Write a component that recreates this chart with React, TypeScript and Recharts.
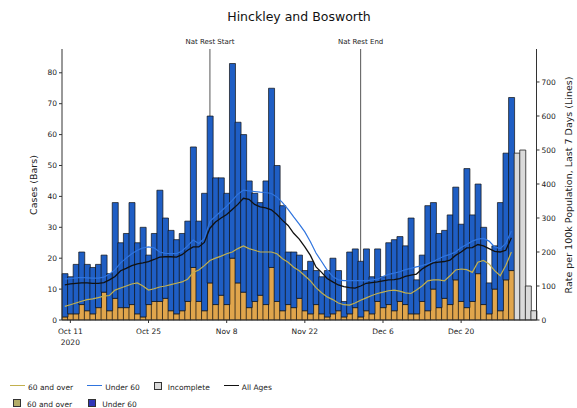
import React from "react";
import { ComposedChart, Bar, Line, XAxis, YAxis, ReferenceLine } from "recharts";

const MONTHS = ["Jan", "Feb", "Mar", "Apr", "May", "Jun", "Jul", "Aug", "Sep", "Oct", "Nov", "Dec"];

// one bar per day, Oct 10 2020 .. Jan 2 2021
const DATES = Array.from({ length: 85 }, (_, i) => {
  const d = new Date(2020, 9, 10 + i);
  return `${MONTHS[d.getMonth()]} ${d.getDate()}`;
});

const TICK_DATES = ["Oct 11", "Oct 25", "Nov 8", "Nov 22", "Dec 6", "Dec 20"];

// daily cases, all ages (complete days)
const TOTAL_CASES = [
  15, 14, 18, 22, 18, 17, 18, 21, 15, 38, 25, 28, 38, 25, 30, 21, 28, 42, 33, 29,
  26, 28, 32, 56, 32, 41, 66, 46, 46, 41, 83, 64, 60, 45, 41, 38, 45, 75, 50, 37,
  22, 22, 21, 16, 19, 16, 14, 16, 20, 16, 6, 22, 23, 19, 23, 14, 23, 14, 25, 26,
  27, 24, 33, 13, 21, 37, 38, 28, 29, 34, 43, 31, 49, 34, 44, 30, 12, 24, 38, 54,
  72,
];

// daily cases, 60 and over
const OVER_60_CASES = [
  1, 2, 2, 5, 3, 2, 4, 9, 3, 7, 4, 4, 5, 2, 1, 5, 6, 6, 7, 3,
  2, 3, 6, 17, 6, 3, 12, 5, 8, 5, 20, 12, 9, 4, 6, 8, 5, 17, 6, 3,
  5, 4, 7, 3, 2, 5, 2, 1, 2, 3, 1, 2, 4, 1, 3, 2, 6, 4, 5, 3,
  6, 5, 2, 2, 6, 3, 10, 4, 7, 5, 13, 6, 4, 6, 15, 5, 2, 10, 3, 13,
  16,
];

// last days, not yet complete
const INCOMPLETE_CASES = [54, 55, 11, 3];

// 7-day rate per 100k
const RATE_ALL_AGES = [
  103, 106, 108, 109, 109, 108, 108, 110, 118, 128, 145, 152, 160, 165, 168, 172, 178, 185, 186, 186,
  185, 192, 205, 215, 215, 228, 270, 288, 300, 310, 325, 340, 358, 355, 340, 333, 330, 324, 310, 293,
  278, 255, 238, 215, 190, 156, 140, 122, 112, 103, 98, 95, 94, 100, 108, 110, 112, 115, 118, 119,
  122, 128, 132, 135, 150, 160, 168, 170, 172, 176, 190, 200, 212, 213, 222, 218, 210, 202, 200, 205,
  242,
];

const RATE_UNDER_60 = [
  120, 122, 124, 125, 124, 123, 123, 126, 135, 148, 168, 182, 195, 205, 212, 215, 212, 200, 196, 195,
  195, 203, 218, 235, 225, 240, 290, 305, 320, 335, 352, 370, 382, 380, 378, 376, 375, 372, 362, 345,
  325, 303, 282, 259, 230, 197, 172, 147, 128, 118, 116, 116, 116, 116, 115, 118, 120, 128, 134, 138,
  142, 148, 152, 156, 160, 165, 172, 180, 188, 193, 200, 213, 222, 232, 238, 240, 232, 215, 210, 225,
  262,
];

const RATE_OVER_60 = [
  40, 45, 50, 55, 60, 62, 66, 70, 72, 88, 94, 100, 106, 109, 100, 88, 92, 97, 100, 104,
  108, 112, 120, 140, 147, 160, 175, 182, 188, 195, 200, 210, 218, 210, 205, 200, 200, 200, 195, 180,
  170, 155, 145, 130, 115, 95, 80, 68, 60, 50, 45, 44, 50, 58, 65, 72, 78, 82, 86, 88,
  85, 80, 78, 88, 100, 115, 118, 118, 115, 130, 147, 150, 148, 140, 170, 175, 165, 145, 130, 160,
  200,
];

const N_COMPLETE = TOTAL_CASES.length;

const data = DATES.map((date, i) => ({
  date,
  over60: i < N_COMPLETE ? OVER_60_CASES[i] : null,
  under60: i < N_COMPLETE ? TOTAL_CASES[i] - OVER_60_CASES[i] : null,
  incomplete: i >= N_COMPLETE ? INCOMPLETE_CASES[i - N_COMPLETE] : null,
  rateAll: i < N_COMPLETE ? RATE_ALL_AGES[i] : null,
  rateUnder60: i < N_COMPLETE ? RATE_UNDER_60[i] : null,
  rateOver60: i < N_COMPLETE ? RATE_OVER_60[i] : null,
}));

const BLUE = "#1f5ec4";
const ORANGE = "#e0a54c";
const OLIVE = "#c2b04e";
const LINE_BLUE = "#2f74de";
const FONT = "'DejaVu Sans', sans-serif";
const TXT = "#222";

function DateTick(props: any) {
  const { x, y, payload } = props;
  return (
    <text x={x} y={y + 9} textAnchor="middle" fontSize={7.5} fill={TXT} fontFamily={FONT}>
      <tspan x={x} dy={0}>{payload.value}</tspan>
      {payload.value === "Oct 11" && (
        <tspan x={x} dy={11}>2020</tspan>
      )}
    </text>
  );
}

function LegendLine({ color }: { color: string }) {
  return <span style={{ display: "inline-block", width: 15, height: 0, borderTop: `1.3px solid ${color}`, verticalAlign: "middle", marginRight: 3 }} />;
}

function LegendBox({ color }: { color: string }) {
  return <span style={{ display: "inline-block", width: 6, height: 6, background: color, border: "1px solid #333", verticalAlign: "middle", marginRight: 6 }} />;
}

export default function App() {
  const legendText: React.CSSProperties = { fontSize: 7.5, color: TXT, marginRight: 14 };
  return (
    <div style={{ position: "absolute", left: 0, top: 0, width: 577, height: 408, background: "#fff", fontFamily: FONT }}>
      <div style={{ position: "absolute", left: 0, width: 598, top: 9, textAlign: "center", fontSize: 12.5, color: "#111" }}>
        Hinckley and Bosworth
      </div>

      <div style={{ position: "absolute", left: 33, top: 185, transform: "translate(-50%, -50%) rotate(-90deg)", whiteSpace: "nowrap", fontSize: 9.5, color: TXT }}>
        Cases (Bars)
      </div>
      <div style={{ position: "absolute", left: 568, top: 185, transform: "translate(-50%, -50%) rotate(-90deg)", whiteSpace: "nowrap", fontSize: 9.5, color: TXT }}>
        Rate per 100k Population, Last 7 Days (Lines)
      </div>

      <div style={{ position: "absolute", left: 0, top: 0 }}>
        <ComposedChart width={577} height={350} data={data} margin={{ top: 49, right: 0, left: 0, bottom: 0 }} barCategoryGap={0}>
          <XAxis
            dataKey="date"
            ticks={TICK_DATES}
            interval={0}
            tick={<DateTick />}
            height={30}
            axisLine={{ stroke: "#333" }}
            tickLine={{ stroke: "#333" }}
            tickSize={3}
          />
          <XAxis xAxisId="top" orientation="top" dataKey="date" tick={false} tickLine={false} height={0} axisLine={{ stroke: "#555" }} />
          <YAxis
            yAxisId="left"
            domain={[0, 87.7]}
            ticks={[0, 10, 20, 30, 40, 50, 60, 70, 80]}
            width={62}
            tick={{ fontSize: 7.5, fill: TXT, fontFamily: FONT }}
            tickSize={3}
            axisLine={{ stroke: "#333" }}
            tickLine={{ stroke: "#333" }}
          />
          <YAxis
            yAxisId="right"
            orientation="right"
            domain={[0, 797]}
            ticks={[0, 100, 200, 300, 400, 500, 600, 700]}
            width={40.5}
            tick={{ fontSize: 7.5, fill: TXT, fontFamily: FONT }}
            tickSize={3}
            axisLine={{ stroke: "#333" }}
            tickLine={{ stroke: "#333" }}
          />
          <ReferenceLine
            yAxisId="left"
            x="Nov 5"
            stroke="#555"
            strokeWidth={1}
            zIndex={100}
            label={{ value: "Nat Rest Start", position: "top", fontSize: 7, fill: TXT, fontFamily: FONT }}
          />
          <ReferenceLine
            yAxisId="left"
            x="Dec 2"
            stroke="#555"
            strokeWidth={1}
            zIndex={100}
            label={{ value: "Nat Rest End", position: "top", fontSize: 7, fill: TXT, fontFamily: FONT }}
          />
          <Bar yAxisId="left" dataKey="over60" stackId="cases" fill={ORANGE} stroke="#111" strokeWidth={0.7} isAnimationActive={false} />
          <Bar yAxisId="left" dataKey="under60" stackId="cases" fill={BLUE} stroke="#111" strokeWidth={0.7} isAnimationActive={false} />
          <Bar yAxisId="left" dataKey="incomplete" stackId="cases" fill="#dadada" stroke="#222" strokeWidth={0.8} isAnimationActive={false} />
          <Line yAxisId="right" dataKey="rateOver60" stroke={OLIVE} strokeWidth={1.2} dot={false} isAnimationActive={false} />
          <Line yAxisId="right" dataKey="rateUnder60" stroke={LINE_BLUE} strokeWidth={1.2} dot={false} isAnimationActive={false} />
          <Line yAxisId="right" dataKey="rateAll" stroke="#111" strokeWidth={1.3} dot={false} isAnimationActive={false} />
        </ComposedChart>
      </div>

      <div style={{ position: "absolute", left: 10, top: 379, whiteSpace: "nowrap", lineHeight: "12px" }}>
        <div>
          <LegendLine color={OLIVE} />
          <span style={legendText}>60 and over</span>
          <LegendLine color={LINE_BLUE} />
          <span style={legendText}>Under 60</span>
          <LegendBox color="#dadada" />
          <span style={legendText}>Incomplete</span>
          <LegendLine color="#111" />
          <span style={legendText}>All Ages</span>
        </div>
        <div style={{ marginTop: 2 }}>
          <span style={{ marginLeft: 3 }} />
          <LegendBox color="#b3ad68" />
          <span style={{ ...legendText, marginRight: 16 }}>60 and over</span>
          <LegendBox color="#3036b8" />
          <span style={legendText}>Under 60</span>
        </div>
      </div>
    </div>
  );
}
